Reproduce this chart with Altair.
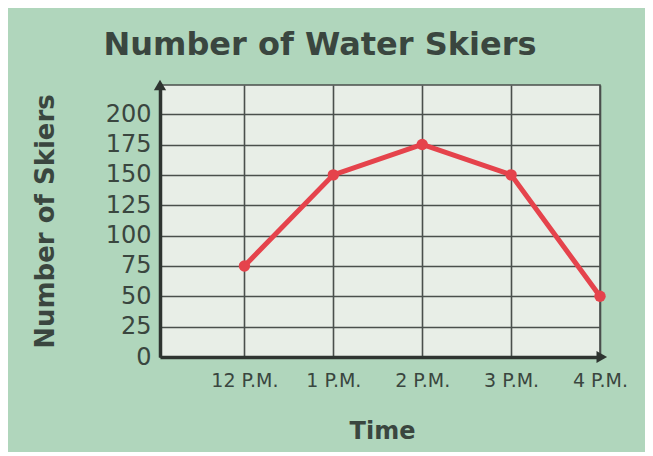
import altair as alt
import pandas as pd

times = ["12 P.M.", "1 P.M.", "2 P.M.", "3 P.M.", "4 P.M."]
skiers = [75, 150, 175, 150, 50]
y_ticks = [0, 25, 50, 75, 100, 125, 150, 175, 200]

df = pd.DataFrame({"idx": list(range(len(times))), "time": times, "skiers": skiers})

label_expr = "[" + ",".join(f"'{t}'" for t in times) + "][datum.value]"

INK = "#3a463f"
GRID = "#4a4f4c"
FONT = "DejaVu Sans"

x_enc = alt.X("idx:Q", scale=alt.Scale(domain=[-0.95, 4], nice=False, zero=False),
              axis=alt.Axis(values=[0, 1, 2, 3, 4], labelExpr=label_expr, title="Time",
                            grid=True, gridColor=GRID, gridWidth=1.6, gridOpacity=1,
                            ticks=False, domain=True, domainColor="#2e3430", domainWidth=3.5,
                            labelFontSize=19, labelColor=INK, labelFont=FONT,
                            labelOverlap=False, labelFlush=False,
                            labelPadding=14, titleFontSize=24, titleFont=FONT, titleFontWeight="bold",
                            titleColor=INK, titleY=62, titleX=222))
y_enc = alt.Y("skiers:Q", scale=alt.Scale(domain=[0, 224], nice=False),
              axis=alt.Axis(values=y_ticks, title="Number of Skiers", grid=True, gridColor=GRID,
                            gridWidth=1.6, gridOpacity=1, ticks=False, domain=True,
                            domainColor="#2e3430", domainWidth=3.5,
                            labelFontSize=24, labelColor=INK, labelFont=FONT,
                            labelOverlap=False, labelFlush=False,
                            labelPadding=9, titleFontSize=26, titleFont=FONT, titleFontWeight="bold",
                            titleColor=INK, titleX=-115, titleY=136, titleAngle=-90,
                            titleAlign="center", titleBaseline="middle"))

line = alt.Chart(df).mark_line(color="#e5434c", strokeWidth=5).encode(x=x_enc, y=y_enc)
pts = alt.Chart(df).mark_circle(color="#e5434c", size=130, opacity=1).encode(x=x_enc, y=y_enc)

arrow_df = pd.DataFrame({"idx": [-0.95, 4.02], "skiers": [224, 0], "shape": ["triangle-up", "triangle-right"]})
arrows = alt.Chart(arrow_df).mark_point(filled=True, color="#2e3430", size=150, opacity=1).encode(
    x=x_enc, y=y_enc, shape=alt.Shape("shape:N", scale=None))

chart = (line + pts + arrows).properties(
    width=440, height=272,
    title=alt.TitleParams("Number of Water Skiers", fontSize=32, font=FONT, fontWeight="bold",
                          color=INK, offset=18, dx=-60, anchor="middle"),
    autosize=alt.AutoSizeParams(type="none"),
    padding={"left": 152, "top": 77, "right": 45, "bottom": 95},
    background="#b0d6bc",
).configure_view(fill="#e8eee7", stroke=GRID, strokeWidth=1.6)

chart.save("out.html", embed_options={"renderer": "svg", "actions": False})
